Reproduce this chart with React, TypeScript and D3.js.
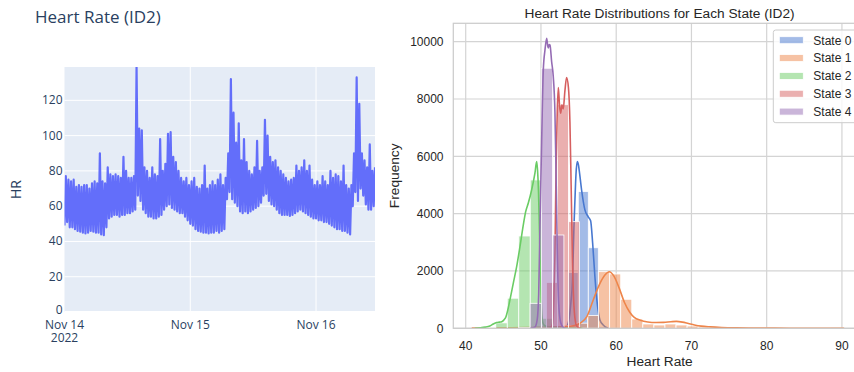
import React from "react";
import * as d3 from "d3";

const WIDTH = 854;
const HEIGHT = 372;

// Heart-rate trace for ID2: one low/high reading pair per 30-minute block from Nov 14 2022 00:00
const hrStart = new Date(2022, 10, 14, 0, 0, 0);
const hrBlockMinutes = 30;
const hrLow = [
  49, 51, 48, 48, 47, 46, 45.5, 45, 44.5, 45, 46, 45.5, 45, 45, 44, 43.5, 48, 53, 54, 55,
  55, 54, 55, 55, 56, 56, 57, 58, 66, 63, 58, 56, 54, 54, 53, 53, 54, 55, 58, 60,
  61, 59, 58, 57, 56, 56, 54, 52, 50, 49, 47, 46, 45.5, 45, 45, 44.5, 45, 45, 46, 45,
  46, 47, 64, 68, 64, 62, 60, 57, 56, 57, 56, 57, 58, 59, 60, 62, 66, 67, 63, 61,
  60, 58, 56, 55, 55, 55, 54.5, 55, 56, 57, 58, 57, 56, 55, 54, 53, 53, 52, 52, 51,
  51, 50, 49, 48, 47, 47, 46, 46, 45, 44, 60, 68, 63, 70, 66, 61, 58, 58, 60,
];
const hrHigh = [
  77, 75, 74, 75, 71, 72, 71, 72, 72, 70, 73, 74, 73, 90, 74, 73, 82, 78, 77, 78,
  77, 76, 88, 80, 76, 76, 77, 139, 104, 103, 82, 80, 76, 82, 78, 77, 98, 80, 84, 101,
  102, 88, 85, 80, 76, 74, 76, 72, 74, 76, 71, 70, 72, 83, 70, 72, 74, 72, 75, 78,
  72, 76, 90, 132, 113, 96, 107, 86, 98, 85, 80, 78, 82, 97, 80, 82, 109, 100, 88, 85,
  86, 82, 80, 78, 76, 74, 75, 76, 83, 80, 82, 86, 80, 83, 75, 72, 74, 72, 77, 74,
  72, 80, 76, 78, 77, 74, 83, 72, 70, 72, 90, 133, 118, 90, 86, 82, 95, 80, 82,
];
const hrTicks = [0, 20, 40, 60, 80, 100, 120];
const hrDayTicks = [
  new Date(2022, 10, 14),
  new Date(2022, 10, 15),
  new Date(2022, 10, 16),
];

// Per-state heart-rate histograms (own bins per state) and their density curves
const stateLabels = ["State 0", "State 1", "State 2", "State 3", "State 4"];
const stateColors = ["#4878d0", "#ee854a", "#6acc64", "#d65f5f", "#956cb4"];
const stateBinStart = [52.3, 41.49, 42.47, 50.73, 47.05];
const stateBinWidth = [1.33, 1.47, 1.527, 1.46, 1.5];

const state0Counts = [30, 1950, 4770, 2810, 60];
const state1Counts = [
  10, 12, 15, 20, 25, 30, 40, 55, 90, 180, 450, 1975, 1895, 1012, 325, 150, 115,
  150, 115, 80, 45, 30, 20, 15, 12, 10, 8, 6, 5, 4, 3, 3, 2,
];
const state2Counts = [25, 190, 1050, 3220, 5175, 350];
const state3Counts = [1600, 7800, 3720];
const state4Counts = [20, 872, 9072, 3255];

const state0Kde: [number, number][] = [
  [53.0, 0], [53.41, 60], [53.72, 300], [53.98, 900], [54.2, 1700], [54.38, 3500],
  [54.52, 4500], [54.65, 5350], [54.82, 5813], [54.98, 5700], [55.09, 5500],
  [55.4, 4825], [55.84, 4130], [56.28, 3890], [56.6, 3750], [56.87, 2970],
  [57.17, 1800], [57.48, 870], [57.84, 290], [58.27, 115], [58.94, 0],
];
const state1Kde: [number, number][] = [
  [40.8, 5], [43, 12], [46, 20], [49, 30], [51, 40], [53, 60], [54.3, 90],
  [55.2, 175], [56.1, 405], [56.95, 990], [57.84, 1570], [58.5, 1860], [59.07, 1975],
  [59.7, 1820], [60.4, 1400], [61.1, 900], [61.8, 560], [62.4, 380], [63.2, 280],
  [64.2, 220], [65.3, 200], [66.3, 205], [67.3, 230], [68.0, 240], [68.8, 215],
  [69.6, 165], [70.4, 115], [71.3, 75], [72.5, 50], [74, 30], [76, 16], [79, 8],
  [83, 4], [86.5, 2], [90.3, 1],
];
const state2Kde: [number, number][] = [
  [41.2, 0], [41.9, 15], [42.6, 40], [43.2, 80], [43.67, 150], [44.1, 200],
  [44.5, 215], [44.78, 230], [45.1, 300], [45.35, 405], [45.6, 650], [45.88, 990],
  [46.32, 1570], [46.77, 2150], [47.21, 2850], [47.65, 3600], [47.97, 4070],
  [48.31, 4360], [48.76, 4825], [49.2, 5410], [49.43, 5813], [49.55, 5500],
  [49.67, 4800], [49.8, 3400], [49.93, 2000], [50.07, 700], [50.2, 250],
  [50.4, 110], [50.8, 60], [51.5, 40], [52.5, 25], [54, 8], [55.5, 0],
];
const state3Kde: [number, number][] = [
  [51.0, 0], [51.3, 30], [51.53, 150], [51.73, 1200], [51.86, 2600], [52.0, 5500],
  [52.17, 7600], [52.31, 8400], [52.46, 7800], [52.62, 7500], [52.79, 7800],
  [52.96, 7650], [53.19, 8300], [53.41, 8750], [53.65, 8400], [53.85, 7200],
  [54.01, 5000], [54.18, 2500], [54.38, 800], [54.65, 150], [54.91, 30], [55.3, 0],
];
const state4Kde: [number, number][] = [
  [48.6, 0], [49.2, 40], [49.5, 300], [49.7, 1200], [49.87, 3600], [50.09, 6500],
  [50.31, 9000], [50.53, 9700], [50.76, 10120], [50.9, 9850], [50.97, 9780],
  [51.1, 9900], [51.2, 9885], [51.42, 9300], [51.63, 8800], [51.86, 7500],
  [52.0, 5500], [52.17, 2700], [52.35, 900], [52.62, 200], [52.96, 30], [53.3, 0],
];

const stateCounts = [state0Counts, state1Counts, state2Counts, state3Counts, state4Counts];
const stateKdes = [state0Kde, state1Kde, state2Kde, state3Kde, state4Kde];

const freqTicks = [0, 2000, 4000, 6000, 8000, 10000];
const rateTicks = [40, 50, 60, 70, 80, 90];

// ---------- layout ----------
const left = { x0: 64.5, x1: 375, y0: 67, y1: 312 };
const right = { x0: 453.3, x1: 863, y0: 23.3, y1: 328.3 };

const plotlyFont = "'Open Sans', verdana, arial, sans-serif";
const mplFont = "'Liberation Sans', Arial, sans-serif";
const plotlyText = "#2a3f5f";
const mplText = "#262626";

function HeartRateTrace() {
  const points: { t: Date; v: number }[] = [];
  hrLow.forEach((lo, i) => {
    const base = hrStart.getTime() + i * hrBlockMinutes * 60000;
    points.push({ t: new Date(base), v: lo });
    points.push({ t: new Date(base + (hrBlockMinutes / 2) * 60000), v: hrHigh[i] });
  });
  const tEnd = points[points.length - 1].t;
  const x = d3.scaleTime().domain([hrStart, tEnd]).range([left.x0, left.x1]);
  const y = d3.scaleLinear().domain([0, 138.9]).range([left.y1, left.y0]);
  const line = d3
    .line<{ t: Date; v: number }>()
    .x((d) => x(d.t))
    .y((d) => y(d.v));
  const fmt = d3.timeFormat("%b %-d");

  return (
    <g>
      <text x={35} y={23} fontFamily={plotlyFont} fontSize={17} fill={plotlyText}>
        Heart Rate (ID2)
      </text>
      <rect
        x={left.x0}
        y={left.y0}
        width={left.x1 - left.x0}
        height={left.y1 - left.y0}
        fill="#E5ECF6"
      />
      {hrTicks.slice(1).map((t) => (
        <line key={t} x1={left.x0} x2={left.x1} y1={y(t)} y2={y(t)} stroke="#fff" strokeWidth={1} />
      ))}
      {hrDayTicks.slice(1).map((d, i) => (
        <line key={i} x1={x(d)} x2={x(d)} y1={left.y0} y2={left.y1} stroke="#fff" strokeWidth={1} />
      ))}
      <line x1={left.x0} x2={left.x1} y1={y(0)} y2={y(0)} stroke="#fff" strokeWidth={2} />
      <defs>
        <clipPath id="hrClip">
          <rect x={left.x0} y={left.y0} width={left.x1 - left.x0} height={left.y1 - left.y0} />
        </clipPath>
      </defs>
      <path
        d={line(points) || ""}
        fill="none"
        stroke="#636efa"
        strokeWidth={2.2}
        strokeLinejoin="round"
        clipPath="url(#hrClip)"
      />
      {hrTicks.map((t) => (
        <text
          key={t}
          x={left.x0 - 2}
          y={y(t) + (t === 0 ? 2 : 4)}
          textAnchor="end"
          fontFamily={plotlyFont}
          fontSize={12}
          fill={plotlyText}
        >
          {t}
        </text>
      ))}
      {hrDayTicks.map((d, i) => (
        <text
          key={i}
          x={x(d)}
          y={328.5}
          textAnchor="middle"
          fontFamily={plotlyFont}
          fontSize={12}
          fill={plotlyText}
        >
          {fmt(d)}
        </text>
      ))}
      <text
        x={x(hrDayTicks[0])}
        y={341.5}
        textAnchor="middle"
        fontFamily={plotlyFont}
        fontSize={12}
        fill={plotlyText}
      >
        {d3.timeFormat("%Y")(hrDayTicks[0])}
      </text>
      <text
        transform={`translate(21,${(left.y0 + left.y1) / 2}) rotate(-90)`}
        textAnchor="middle"
        fontFamily={plotlyFont}
        fontSize={14}
        fill={plotlyText}
      >
        HR
      </text>
    </g>
  );
}

function StateHistograms() {
  const x = d3.scaleLinear().domain([38.35, 92.8]).range([right.x0, right.x1]);
  const y = d3.scaleLinear().domain([0, 10640]).range([right.y1, right.y0]);
  const kdeLine = d3
    .line<[number, number]>()
    .x((d) => x(d[0]))
    .y((d) => y(d[1]))
    .curve(d3.curveMonotoneX);
  const grid = "#d4d4d4";

  return (
    <g>
      <defs>
        <clipPath id="histClip">
          <rect x={right.x0} y={right.y0} width={right.x1 - right.x0} height={right.y1 - right.y0} />
        </clipPath>
      </defs>
      {rateTicks.map((t) => (
        <line key={t} x1={x(t)} x2={x(t)} y1={right.y0} y2={right.y1} stroke={grid} strokeWidth={1.2} />
      ))}
      {freqTicks.map((t) => (
        <line key={t} x1={right.x0} x2={right.x1} y1={y(t)} y2={y(t)} stroke={grid} strokeWidth={1.2} />
      ))}
      <g clipPath="url(#histClip)">
        {stateCounts.map((counts, s) => (
          <g key={s}>
            {counts.map((c, k) => {
              const a = stateBinStart[s] + k * stateBinWidth[s];
              const b = a + stateBinWidth[s];
              return (
                <rect
                  key={k}
                  x={x(a)}
                  y={y(c)}
                  width={x(b) - x(a)}
                  height={y(0) - y(c)}
                  fill={stateColors[s]}
                  fillOpacity={0.5}
                  stroke="#fff"
                  strokeWidth={0.8}
                />
              );
            })}
            <path
              d={kdeLine(stateKdes[s]) || ""}
              fill="none"
              stroke={stateColors[s]}
              strokeWidth={1.6}
              strokeLinejoin="round"
            />
          </g>
        ))}
      </g>
      <rect
        x={right.x0}
        y={right.y0}
        width={right.x1 - right.x0}
        height={right.y1 - right.y0}
        fill="none"
        stroke="#cccccc"
        strokeWidth={1.25}
      />
      {freqTicks.map((t) => (
        <text
          key={t}
          x={443.5}
          y={y(t) + 4.3}
          textAnchor="end"
          fontFamily={mplFont}
          fontSize={12}
          fill={mplText}
        >
          {t}
        </text>
      ))}
      {rateTicks.map((t) => (
        <text
          key={t}
          x={x(t)}
          y={350}
          textAnchor="middle"
          fontFamily={mplFont}
          fontSize={12}
          fill={mplText}
        >
          {t}
        </text>
      ))}
      <text
        x={(right.x0 + 866) / 2}
        y={17.5}
        textAnchor="middle"
        fontFamily={mplFont}
        fontSize={13.7}
        fill={mplText}
      >
        Heart Rate Distributions for Each State (ID2)
      </text>
      <text
        x={(right.x0 + 866) / 2}
        y={366}
        textAnchor="middle"
        fontFamily={mplFont}
        fontSize={13.7}
        fill={mplText}
      >
        Heart Rate
      </text>
      <text
        transform={`translate(399,${(right.y0 + right.y1) / 2}) rotate(-90)`}
        textAnchor="middle"
        fontFamily={mplFont}
        fontSize={13.7}
        fill={mplText}
      >
        Frequency
      </text>
      <g>
        <rect
          x={773.3}
          y={30}
          width={86}
          height={92.7}
          rx={2.5}
          fill="#fff"
          fillOpacity={0.8}
          stroke="#cccccc"
          strokeWidth={1}
        />
        {stateLabels.map((lab, i) => (
          <g key={lab}>
            <rect
              x={779.3}
              y={36.7 + i * 17.85}
              width={24}
              height={7}
              fill={stateColors[i]}
              fillOpacity={0.5}
              stroke="#fff"
              strokeWidth={0.8}
            />
            <text x={813.3} y={44.5 + i * 17.85} fontFamily={mplFont} fontSize={12} fill={mplText}>
              {lab}
            </text>
          </g>
        ))}
      </g>
    </g>
  );
}

export default function App() {
  return (
    <svg
      width={WIDTH}
      height={HEIGHT}
      viewBox={`0 0 ${WIDTH} ${HEIGHT}`}
      style={{ position: "absolute", left: 0, top: 0, background: "#fff" }}
    >
      <rect width={WIDTH} height={HEIGHT} fill="#fff" />
      <HeartRateTrace />
      <StateHistograms />
    </svg>
  );
}
